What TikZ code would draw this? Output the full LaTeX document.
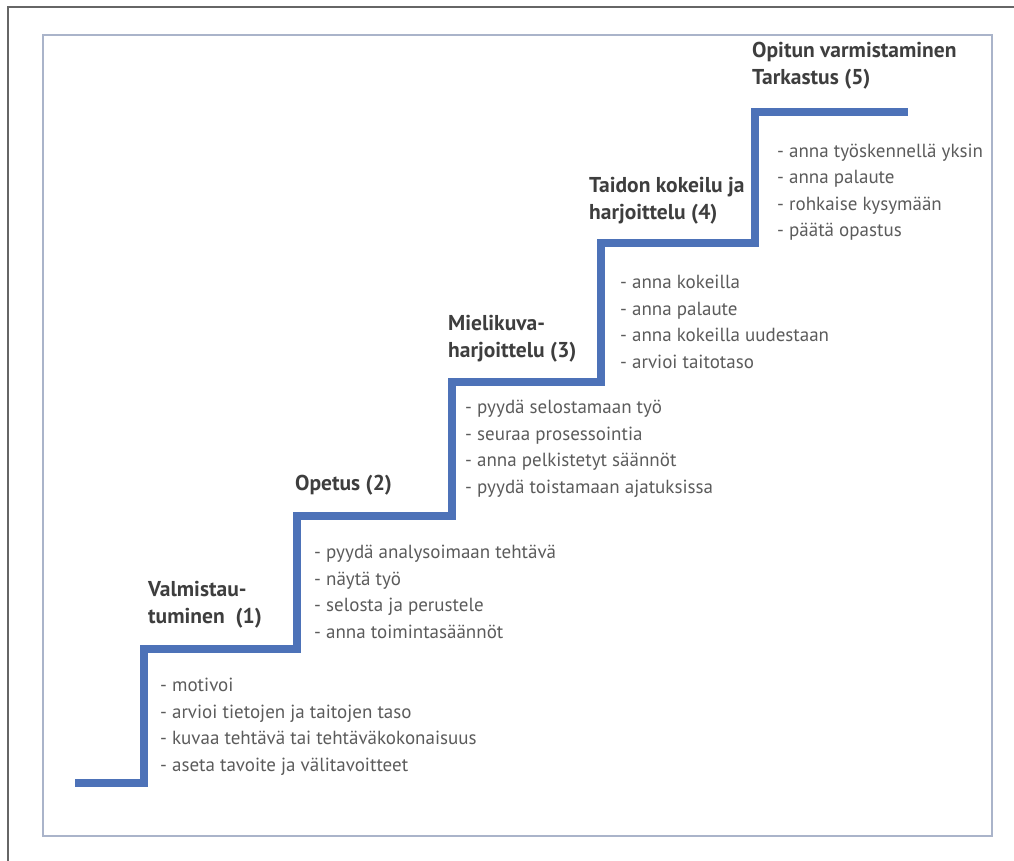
\documentclass[tikz,border=0pt]{standalone}
\usepackage{fontspec}
\setmainfont{PT Sans}
\usepackage{xcolor}
\usetikzlibrary{positioning}
\definecolor{stairblue}{RGB}{77,114,184}
\definecolor{framegray}{RGB}{170,180,202}
\definecolor{textgray}{RGB}{62,62,62}

\begin{document}
\begin{tikzpicture}[x=1pt,y=-1pt,
                    stair/.style={draw=stairblue,line width=8pt},
                    phase/.style={font=\bfseries\fontsize{21.5}{27}\selectfont,text=textgray,align=left,anchor=west,inner sep=0pt},
                    tasks/.style={font=\fontsize{19}{26.5}\selectfont,text=textgray!85,align=left,anchor=west,inner sep=0pt}]

\useasboundingbox (0,0) rectangle (1014,861);

% scan edge and frame
\draw[line width=2pt,black!60] (8,861) -- (8,7) -- (1014,7);
\draw[framegray,line width=1.5pt] (43,35) rectangle (992,836);

% staircase corners
\coordinate (Start) at (75,783);
\foreach \n/\x/\y in {1/144/783,2/297/649,3/452/516,4/601/382,5/755/243,6/908/112}
   \coordinate (c\n) at (\x,\y);
\draw[stair] (Start) -- (c1) |- (c2) |- (c3) |- (c4) |- (c5) |- (c6);

% phases
\node[phase] (P1) at (148,605) {Valmistau-\\tuminen\ \ (1)};
\node[phase] (P2) at (295,485) {Opetus (2)};
\node[phase] (P3) at (448,339) {Mielikuva-\\harjoittelu (3)};
\node[phase] (P4) at (589,201) {Taidon kokeilu ja\\harjoittelu (4)};
\node[phase] (P5) at (752,66) {Opitun varmistaminen\\Tarkastus (5)};

% what to do in each phase
\node[tasks] (T1) at (160,727) {- motivoi\\- arvioi tietojen ja taitojen taso\\- kuvaa teht\"av\"a tai teht\"av\"akokonaisuus\\- aseta tavoite ja v\"alitavoitteet};
\node[tasks] (T2) at (314,592) {- pyyd\"a analysoimaan teht\"av\"a\\- n\"ayt\"a ty\"o\\- selosta ja perustele\\- anna toimintas\"a\"ann\"ot};
\node[tasks] (T3) at (465,449) {- pyyd\"a selostamaan ty\"o\\- seuraa prosessointia\\- anna pelkistetyt s\"a\"ann\"ot\\- pyyd\"a toistamaan ajatuksissa};
\node[tasks] (T4) at (620,322) {- anna kokeilla\\- anna palaute\\- anna kokeilla uudestaan\\- arvioi taitotaso};
\node[tasks] (T5) at (777,192) {- anna ty\"oskennell\"a yksin\\- anna palaute\\- rohkaise kysym\"a\"an\\- p\"a\"at\"a opastus};

\end{tikzpicture}
\end{document}
